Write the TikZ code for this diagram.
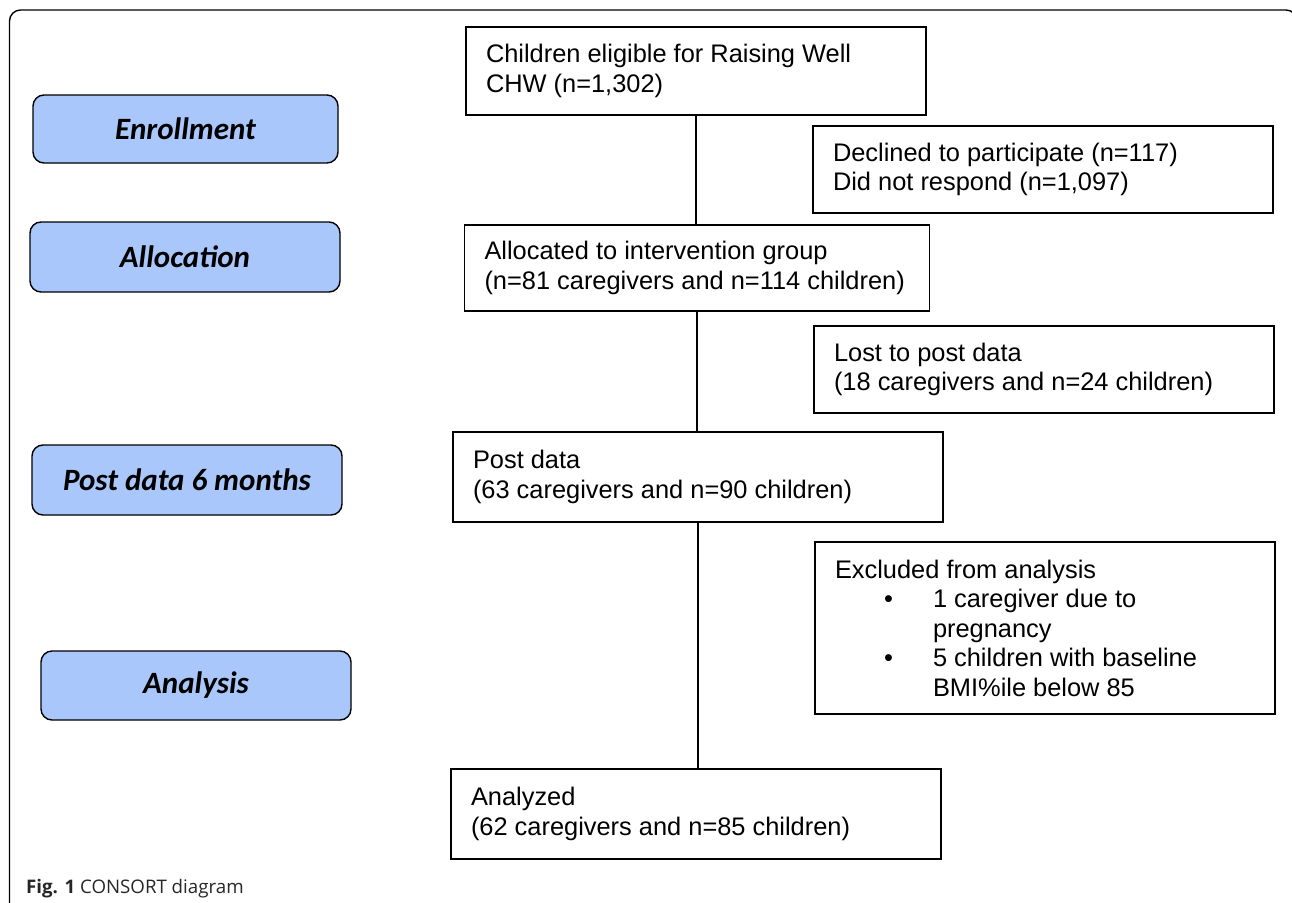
\documentclass[tikz,border=0pt]{standalone}
\usepackage{fontspec}
\setmainfont{Liberation Sans}
\newfontfamily\labfont{Carlito}
\newfontfamily\capfont{Open Sans}
\definecolor{labblue}{RGB}{169,199,250}
\begin{document}
\begin{tikzpicture}[x=1pt,y=-1pt,
  flowbox/.style={draw=black, line width=1.6pt, rectangle, inner xsep=20pt, inner ysep=4pt,
    align=flush left, font=\fontsize{25.4pt}{29.5pt}\selectfont},
  phasebox/.style={draw=black, line width=1.4pt, fill=labblue, rounded corners=11pt,
    font=\labfont\bfseries\itshape\fontsize{31pt}{35pt}\selectfont, inner sep=0pt},
  link/.style={draw=black, line width=1.8pt}]
\useasboundingbox (0,0) rectangle (1292,902);
\begin{scope}
\clip (0,0) rectangle (1292,902);
\draw[line width=1.4pt, rounded corners=11pt] (9.5,920) -- (9.5,10) -- (1297,10) -- (1297,920);
\end{scope}

% phase labels
\node[phasebox, minimum width=305pt, minimum height=68pt] (enr) at (185.5,129) {Enrollment};
\node[phasebox, minimum width=310pt, minimum height=70pt] (alc) at (185,257) {Allocation};
\node[phasebox, minimum width=310pt, minimum height=70pt] (pst) at (187,480) {Post data 6 months};
\node[phasebox, minimum width=310pt, minimum height=69pt] (ana) at (196,685.5) {Analysis};

% main flow
\node[flowbox, text width=420pt, minimum height=88pt] (b1) at (696,71)
  {Children eligible for Raising Well\\CHW (n=1,302)};
\node[flowbox, text width=420pt, minimum height=87pt] (dec) at (1043,169.5)
  {Declined to participate (n=117)\\Did not respond (n=1,097)};
\node[flowbox, text width=425pt, minimum height=86pt] (b2) at (697,268)
  {Allocated to intervention group\\\mbox{(n=81 caregivers and n=114 children)}};
\node[flowbox, text width=420pt, minimum height=87pt] (lost) at (1044,369.5)
  {Lost to post data\\(18 caregivers and n=24 children)};
\node[flowbox, text width=450pt, minimum height=90pt] (b3) at (698,477)
  {Post data\\(63 caregivers and n=90 children)};
\node[flowbox, text width=420pt, minimum height=172pt] (exc) at (1045,628)
  {Excluded from analysis\\
   \hspace*{49pt}\makebox[49pt][l]{\textbullet}1 caregiver due to\\
   \hspace*{98pt}pregnancy\\
   \hspace*{49pt}\makebox[49pt][l]{\textbullet}5 children with baseline\\
   \hspace*{98pt}BMI\%ile below 85};
\node[flowbox, text width=450pt, minimum height=90pt] (b4) at (696,814)
  {Analyzed\\(62 caregivers and n=85 children)};

\draw[link] (b1.south) -- (b1.south |- b2.north);
\draw[link] (b2.south) -- (b2.south |- b3.north);
\draw[link] (b3.south) -- (b3.south |- b4.north);

\node[anchor=base west, inner sep=0pt, font=\capfont\fontsize{18.7pt}{21pt}\selectfont, text=black!85] (cap) at (26,893)
  {\textbf{Fig. 1} CONSORT diagram};
\end{tikzpicture}
\end{document}
